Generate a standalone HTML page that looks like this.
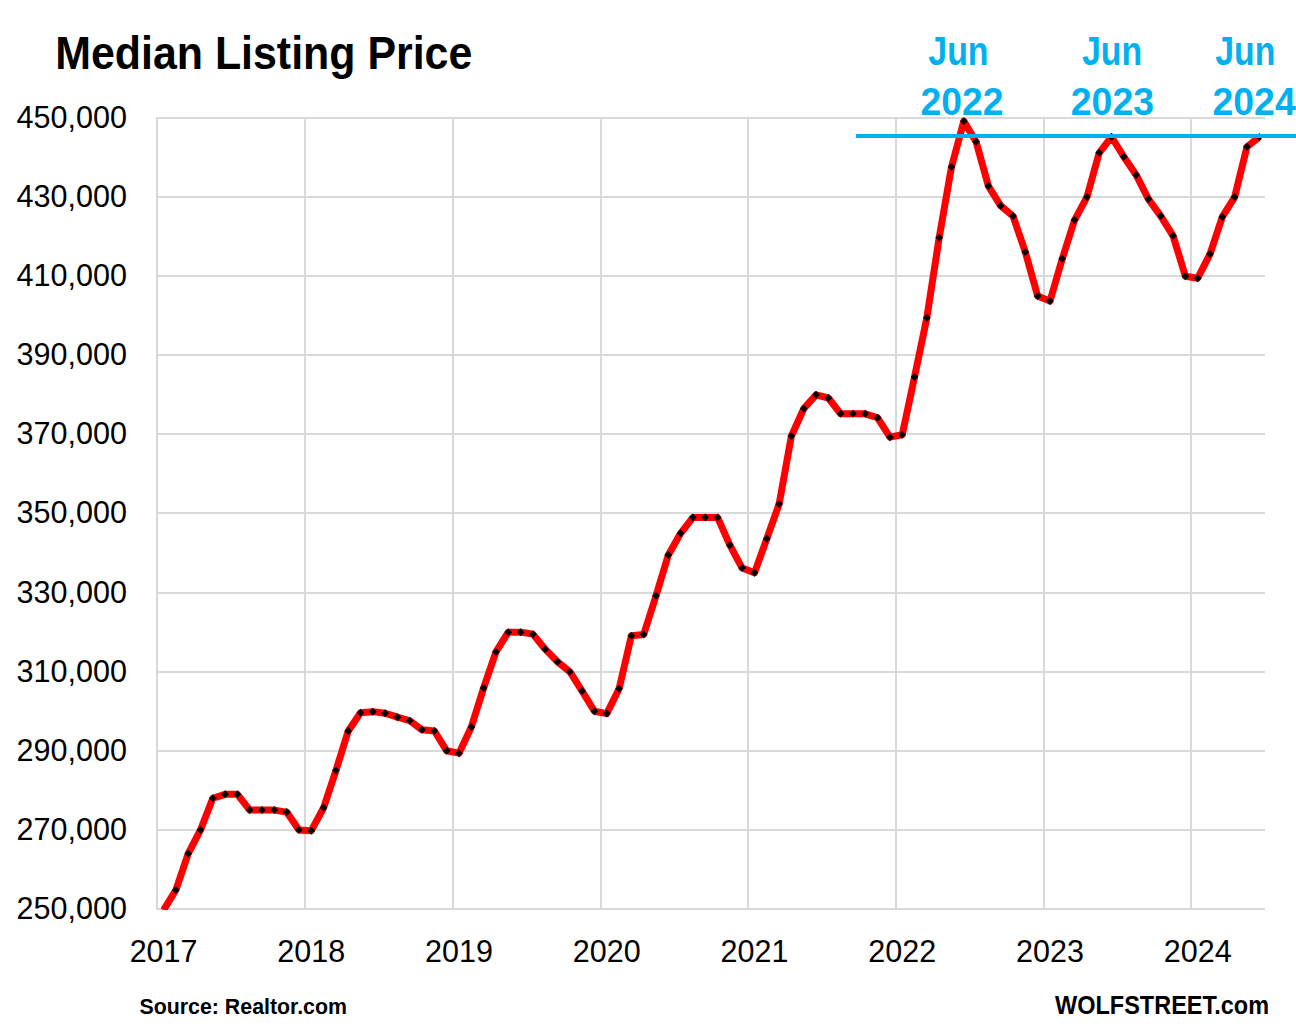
<!DOCTYPE html>
<html><head><meta charset="utf-8"><style>
html,body{margin:0;padding:0;background:#fff;}
body{width:1296px;height:1032px;overflow:hidden;}
svg{display:block;}
text{font-family:"Liberation Sans",sans-serif;}
</style></head><body>
<svg width="1296" height="1032" viewBox="0 0 1296 1032">
<rect width="1296" height="1032" fill="#fff"/>
<defs><clipPath id="pa"><rect x="156" y="117" width="1110" height="793"/></clipPath></defs>
<g fill="#d9d9d9"><rect x="156" y="117" width="1109" height="2"/><rect x="156" y="196" width="1109" height="2"/><rect x="156" y="275" width="1109" height="2"/><rect x="156" y="354" width="1109" height="2"/><rect x="156" y="433" width="1109" height="2"/><rect x="156" y="512" width="1109" height="2"/><rect x="156" y="592" width="1109" height="2"/><rect x="156" y="671" width="1109" height="2"/><rect x="156" y="750" width="1109" height="2"/><rect x="156" y="829" width="1109" height="2"/><rect x="156" y="908" width="1109" height="2"/><rect x="156" y="117" width="2" height="793"/><rect x="304" y="117" width="2" height="793"/><rect x="452" y="117" width="2" height="793"/><rect x="600" y="117" width="2" height="793"/><rect x="747" y="117" width="2" height="793"/><rect x="895" y="117" width="2" height="793"/><rect x="1043" y="117" width="2" height="793"/><rect x="1190" y="117" width="2" height="793"/></g>
<g font-size="30.89" fill="#000"><text x="126.88" y="127.85" text-anchor="end" textLength="110.38" lengthAdjust="spacingAndGlyphs">450,000</text><text x="126.88" y="206.85" text-anchor="end" textLength="110.38" lengthAdjust="spacingAndGlyphs">430,000</text><text x="126.88" y="285.85" text-anchor="end" textLength="110.38" lengthAdjust="spacingAndGlyphs">410,000</text><text x="126.88" y="364.85" text-anchor="end" textLength="110.38" lengthAdjust="spacingAndGlyphs">390,000</text><text x="126.88" y="443.85" text-anchor="end" textLength="110.38" lengthAdjust="spacingAndGlyphs">370,000</text><text x="126.88" y="522.85" text-anchor="end" textLength="110.38" lengthAdjust="spacingAndGlyphs">350,000</text><text x="126.88" y="602.85" text-anchor="end" textLength="110.38" lengthAdjust="spacingAndGlyphs">330,000</text><text x="126.88" y="681.85" text-anchor="end" textLength="110.38" lengthAdjust="spacingAndGlyphs">310,000</text><text x="126.88" y="760.85" text-anchor="end" textLength="110.38" lengthAdjust="spacingAndGlyphs">290,000</text><text x="126.88" y="839.85" text-anchor="end" textLength="110.38" lengthAdjust="spacingAndGlyphs">270,000</text><text x="126.88" y="918.85" text-anchor="end" textLength="110.38" lengthAdjust="spacingAndGlyphs">250,000</text></g>
<g font-size="30.63" fill="#000"><text x="163.56" y="962.30" text-anchor="middle" textLength="67.87" lengthAdjust="spacingAndGlyphs">2017</text><text x="311.29" y="962.30" text-anchor="middle" textLength="67.87" lengthAdjust="spacingAndGlyphs">2018</text><text x="459.02" y="962.30" text-anchor="middle" textLength="67.87" lengthAdjust="spacingAndGlyphs">2019</text><text x="606.76" y="962.30" text-anchor="middle" textLength="67.87" lengthAdjust="spacingAndGlyphs">2020</text><text x="754.49" y="962.30" text-anchor="middle" textLength="67.87" lengthAdjust="spacingAndGlyphs">2021</text><text x="902.22" y="962.30" text-anchor="middle" textLength="67.87" lengthAdjust="spacingAndGlyphs">2022</text><text x="1049.96" y="962.30" text-anchor="middle" textLength="67.87" lengthAdjust="spacingAndGlyphs">2023</text><text x="1197.69" y="962.30" text-anchor="middle" textLength="67.87" lengthAdjust="spacingAndGlyphs">2024</text></g>
<g clip-path="url(#pa)">
<path d="M163.56,910.19 L175.87,890.02 L188.18,853.63 L200.49,829.90 L212.80,798.26 L225.11,794.31 L237.42,794.31 L249.73,810.12 L262.04,810.12 L274.36,810.12 L286.67,812.10 L298.98,829.90 L311.29,830.69 L323.60,807.75 L335.91,770.58 L348.22,731.02 L360.53,712.83 L372.84,711.65 L385.16,713.23 L397.47,717.18 L409.78,720.74 L422.09,729.84 L434.40,731.02 L446.71,750.80 L459.02,753.17 L471.33,727.07 L483.64,687.92 L495.96,651.92 L508.27,632.15 L520.58,632.15 L532.89,634.13 L545.20,649.16 L557.51,661.81 L569.82,671.70 L582.13,691.08 L594.44,711.25 L606.76,713.62 L619.07,688.71 L631.38,635.71 L643.69,634.52 L656.00,595.76 L668.31,555.03 L680.62,533.28 L692.93,517.45 L705.24,517.45 L717.56,517.45 L729.87,545.14 L742.18,568.08 L754.49,572.83 L766.80,538.81 L779.11,504.01 L791.42,435.98 L803.73,408.69 L816.04,394.85 L828.36,398.01 L840.67,413.83 L852.98,413.83 L865.29,413.83 L877.60,417.79 L889.91,437.17 L902.22,434.80 L914.53,377.05 L926.84,317.73 L939.16,237.84 L951.47,167.04 L963.78,121.16 L976.09,141.73 L988.40,186.03 L1000.71,205.80 L1013.02,216.08 L1025.33,252.07 L1037.64,295.98 L1049.96,301.12 L1062.27,258.80 L1074.58,220.04 L1086.89,197.10 L1099.20,152.80 L1111.51,136.98 L1123.82,156.76 L1136.13,174.95 L1148.44,199.08 L1160.76,216.08 L1173.07,235.86 L1185.38,276.20 L1197.69,278.18 L1210.00,254.05 L1222.31,216.88 L1234.62,197.10 L1246.93,146.87 L1259.24,136.98" fill="none" stroke="#ff0000" stroke-width="7" stroke-linejoin="round" stroke-linecap="butt"/>
<g fill="#000"><path d="M175.87,886.02L179.67,890.02L175.87,894.02L172.07,890.02Z"/><path d="M188.18,849.63L191.98,853.63L188.18,857.63L184.38,853.63Z"/><path d="M200.49,825.90L204.29,829.90L200.49,833.90L196.69,829.90Z"/><path d="M212.80,794.26L216.60,798.26L212.80,802.26L209.00,798.26Z"/><path d="M225.11,790.31L228.91,794.31L225.11,798.31L221.31,794.31Z"/><path d="M237.42,790.31L241.22,794.31L237.42,798.31L233.62,794.31Z"/><path d="M249.73,806.12L253.53,810.12L249.73,814.12L245.93,810.12Z"/><path d="M262.04,806.12L265.84,810.12L262.04,814.12L258.24,810.12Z"/><path d="M274.36,806.12L278.16,810.12L274.36,814.12L270.56,810.12Z"/><path d="M286.67,808.10L290.47,812.10L286.67,816.10L282.87,812.10Z"/><path d="M298.98,825.90L302.78,829.90L298.98,833.90L295.18,829.90Z"/><path d="M311.29,826.69L315.09,830.69L311.29,834.69L307.49,830.69Z"/><path d="M323.60,803.75L327.40,807.75L323.60,811.75L319.80,807.75Z"/><path d="M335.91,766.58L339.71,770.58L335.91,774.58L332.11,770.58Z"/><path d="M348.22,727.02L352.02,731.02L348.22,735.02L344.42,731.02Z"/><path d="M360.53,708.83L364.33,712.83L360.53,716.83L356.73,712.83Z"/><path d="M372.84,707.65L376.64,711.65L372.84,715.65L369.04,711.65Z"/><path d="M385.16,709.23L388.96,713.23L385.16,717.23L381.36,713.23Z"/><path d="M397.47,713.18L401.27,717.18L397.47,721.18L393.67,717.18Z"/><path d="M409.78,716.74L413.58,720.74L409.78,724.74L405.98,720.74Z"/><path d="M422.09,725.84L425.89,729.84L422.09,733.84L418.29,729.84Z"/><path d="M434.40,727.02L438.20,731.02L434.40,735.02L430.60,731.02Z"/><path d="M446.71,746.80L450.51,750.80L446.71,754.80L442.91,750.80Z"/><path d="M459.02,749.17L462.82,753.17L459.02,757.17L455.22,753.17Z"/><path d="M471.33,723.07L475.13,727.07L471.33,731.07L467.53,727.07Z"/><path d="M483.64,683.92L487.44,687.92L483.64,691.92L479.84,687.92Z"/><path d="M495.96,647.92L499.76,651.92L495.96,655.92L492.16,651.92Z"/><path d="M508.27,628.15L512.07,632.15L508.27,636.15L504.47,632.15Z"/><path d="M520.58,628.15L524.38,632.15L520.58,636.15L516.78,632.15Z"/><path d="M532.89,630.13L536.69,634.13L532.89,638.13L529.09,634.13Z"/><path d="M545.20,645.16L549.00,649.16L545.20,653.16L541.40,649.16Z"/><path d="M557.51,657.81L561.31,661.81L557.51,665.81L553.71,661.81Z"/><path d="M569.82,667.70L573.62,671.70L569.82,675.70L566.02,671.70Z"/><path d="M582.13,687.08L585.93,691.08L582.13,695.08L578.33,691.08Z"/><path d="M594.44,707.25L598.24,711.25L594.44,715.25L590.64,711.25Z"/><path d="M606.76,709.62L610.56,713.62L606.76,717.62L602.96,713.62Z"/><path d="M619.07,684.71L622.87,688.71L619.07,692.71L615.27,688.71Z"/><path d="M631.38,631.71L635.18,635.71L631.38,639.71L627.58,635.71Z"/><path d="M643.69,630.52L647.49,634.52L643.69,638.52L639.89,634.52Z"/><path d="M656.00,591.76L659.80,595.76L656.00,599.76L652.20,595.76Z"/><path d="M668.31,551.03L672.11,555.03L668.31,559.03L664.51,555.03Z"/><path d="M680.62,529.28L684.42,533.28L680.62,537.28L676.82,533.28Z"/><path d="M692.93,513.45L696.73,517.45L692.93,521.45L689.13,517.45Z"/><path d="M705.24,513.45L709.04,517.45L705.24,521.45L701.44,517.45Z"/><path d="M717.56,513.45L721.36,517.45L717.56,521.45L713.76,517.45Z"/><path d="M729.87,541.14L733.67,545.14L729.87,549.14L726.07,545.14Z"/><path d="M742.18,564.08L745.98,568.08L742.18,572.08L738.38,568.08Z"/><path d="M754.49,568.83L758.29,572.83L754.49,576.83L750.69,572.83Z"/><path d="M766.80,534.81L770.60,538.81L766.80,542.81L763.00,538.81Z"/><path d="M779.11,500.01L782.91,504.01L779.11,508.01L775.31,504.01Z"/><path d="M791.42,431.98L795.22,435.98L791.42,439.98L787.62,435.98Z"/><path d="M803.73,404.69L807.53,408.69L803.73,412.69L799.93,408.69Z"/><path d="M816.04,390.85L819.84,394.85L816.04,398.85L812.24,394.85Z"/><path d="M828.36,394.01L832.16,398.01L828.36,402.01L824.56,398.01Z"/><path d="M840.67,409.83L844.47,413.83L840.67,417.83L836.87,413.83Z"/><path d="M852.98,409.83L856.78,413.83L852.98,417.83L849.18,413.83Z"/><path d="M865.29,409.83L869.09,413.83L865.29,417.83L861.49,413.83Z"/><path d="M877.60,413.79L881.40,417.79L877.60,421.79L873.80,417.79Z"/><path d="M889.91,433.17L893.71,437.17L889.91,441.17L886.11,437.17Z"/><path d="M902.22,430.80L906.02,434.80L902.22,438.80L898.42,434.80Z"/><path d="M914.53,373.05L918.33,377.05L914.53,381.05L910.73,377.05Z"/><path d="M926.84,313.73L930.64,317.73L926.84,321.73L923.04,317.73Z"/><path d="M939.16,233.84L942.96,237.84L939.16,241.84L935.36,237.84Z"/><path d="M951.47,163.04L955.27,167.04L951.47,171.04L947.67,167.04Z"/><path d="M963.78,117.16L967.58,121.16L963.78,125.16L959.98,121.16Z"/><path d="M976.09,137.73L979.89,141.73L976.09,145.73L972.29,141.73Z"/><path d="M988.40,182.03L992.20,186.03L988.40,190.03L984.60,186.03Z"/><path d="M1000.71,201.80L1004.51,205.80L1000.71,209.80L996.91,205.80Z"/><path d="M1013.02,212.08L1016.82,216.08L1013.02,220.08L1009.22,216.08Z"/><path d="M1025.33,248.07L1029.13,252.07L1025.33,256.07L1021.53,252.07Z"/><path d="M1037.64,291.98L1041.44,295.98L1037.64,299.98L1033.84,295.98Z"/><path d="M1049.96,297.12L1053.76,301.12L1049.96,305.12L1046.16,301.12Z"/><path d="M1062.27,254.80L1066.07,258.80L1062.27,262.80L1058.47,258.80Z"/><path d="M1074.58,216.04L1078.38,220.04L1074.58,224.04L1070.78,220.04Z"/><path d="M1086.89,193.10L1090.69,197.10L1086.89,201.10L1083.09,197.10Z"/><path d="M1099.20,148.80L1103.00,152.80L1099.20,156.80L1095.40,152.80Z"/><path d="M1111.51,132.98L1115.31,136.98L1111.51,140.98L1107.71,136.98Z"/><path d="M1123.82,152.76L1127.62,156.76L1123.82,160.76L1120.02,156.76Z"/><path d="M1136.13,170.95L1139.93,174.95L1136.13,178.95L1132.33,174.95Z"/><path d="M1148.44,195.08L1152.24,199.08L1148.44,203.08L1144.64,199.08Z"/><path d="M1160.76,212.08L1164.56,216.08L1160.76,220.08L1156.96,216.08Z"/><path d="M1173.07,231.86L1176.87,235.86L1173.07,239.86L1169.27,235.86Z"/><path d="M1185.38,272.20L1189.18,276.20L1185.38,280.20L1181.58,276.20Z"/><path d="M1197.69,274.18L1201.49,278.18L1197.69,282.18L1193.89,278.18Z"/><path d="M1210.00,250.05L1213.80,254.05L1210.00,258.05L1206.20,254.05Z"/><path d="M1222.31,212.88L1226.11,216.88L1222.31,220.88L1218.51,216.88Z"/><path d="M1234.62,193.10L1238.42,197.10L1234.62,201.10L1230.82,197.10Z"/><path d="M1246.93,142.87L1250.73,146.87L1246.93,150.87L1243.13,146.87Z"/><path d="M1259.24,132.98L1263.04,136.98L1259.24,140.98L1255.44,136.98Z"/></g>
</g>
<rect x="856" y="134" width="440" height="4" fill="#00b0f0"/>
<g font-weight="bold" fill="#000">
<text x="55.20" y="69.40" font-size="46.00" textLength="417.15" lengthAdjust="spacingAndGlyphs">Median Listing Price</text>
<text x="139.50" y="1013.70" font-size="22.80" textLength="207.47" lengthAdjust="spacingAndGlyphs">Source: Realtor.com</text>
<text x="1055.00" y="1013.90" font-size="25.04" textLength="214.12" lengthAdjust="spacingAndGlyphs">WOLFSTREET.com</text>
</g>
<g font-weight="bold" fill="#00b0f0">
<text x="928.30" y="64.50" font-size="39.90" textLength="60.28" lengthAdjust="spacingAndGlyphs">Jun</text><text x="920.50" y="115.30" font-size="37.90" textLength="82.98" lengthAdjust="spacingAndGlyphs">2022</text>
<text x="1081.90" y="64.50" font-size="39.90" textLength="60.17" lengthAdjust="spacingAndGlyphs">Jun</text><text x="1070.80" y="115.30" font-size="37.90" textLength="83.19" lengthAdjust="spacingAndGlyphs">2023</text>
<text x="1215.20" y="64.50" font-size="39.90" textLength="60.08" lengthAdjust="spacingAndGlyphs">Jun</text><text x="1212.50" y="115.30" font-size="37.90" textLength="83.23" lengthAdjust="spacingAndGlyphs">2024</text>
</g>
</svg>
</body></html>
